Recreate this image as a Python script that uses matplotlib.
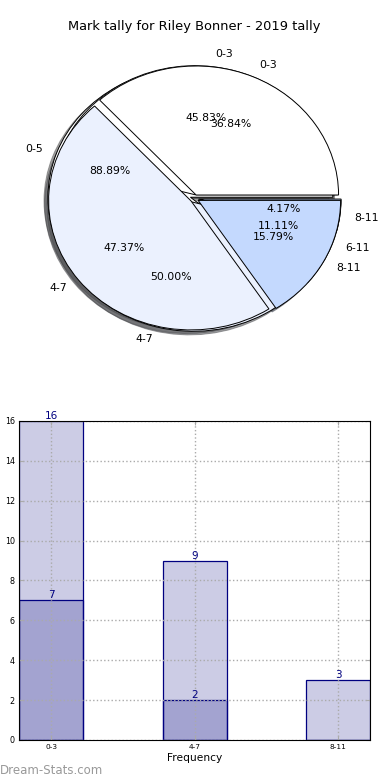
import matplotlib
matplotlib.use('Agg')
import matplotlib.pyplot as plt
import numpy as np

# pie data (three overlaid pies, last one drawn on top)
pie_labels_a = ['0-5', '6-11']
pie_values_a = [16, 2]
pie_labels_b = ['0-3', '4-7', '8-11']
pie_values_b = [11, 12, 1]
pie_labels_c = ['0-3', '4-7', '8-11']
pie_values_c = [7, 9, 3]
pie_colors = ['white', '#ebf1fe', '#c4d9fe']

# bar data
categories = ['0-3', '4-7', '8-11']
tally_all = [16, 9, 3]
tally_sub = [7, 2, 0]

fig = plt.figure(figsize=(3.9, 7.8), dpi=100)

# --- pies ---
ax1 = fig.add_axes([0.042, 0.5387, 0.913, 0.4135])
for labels, values in [(pie_labels_a, pie_values_a),
                       (pie_labels_b, pie_values_b),
                       (pie_labels_c, pie_values_c)]:
    wedges, texts, autotexts = ax1.pie(
        values, labels=labels, colors=pie_colors[:len(values)],
        explode=[0.03] * len(values), shadow=True, autopct='%1.2f%%',
        startangle=0, counterclock=True,
        wedgeprops={'edgecolor': 'black', 'linewidth': 0.7},
        textprops={'fontsize': 7.8})
ax1.set_aspect('auto')
ax1.set_xlim(-1.25, 1.25)
ax1.set_ylim(-1.25, 1.25)
ax1.set_title('Mark tally for Riley Bonner - 2019 tally', fontsize=9.4, pad=5)

# --- bars ---
ax2 = fig.add_axes([0.049, 0.0513, 0.9, 0.409])
x = np.arange(len(categories))
width = 0.446
face = (0, 0, 0.5, 0.2)
b1 = ax2.bar(x, tally_all, width, color=face, edgecolor='#000080', linewidth=0.9)
b2 = ax2.bar(x, tally_sub, width, color=face, edgecolor='#000080', linewidth=0.9)
for bars, vals in [(b1, tally_all), (b2, tally_sub)]:
    for rect, v in zip(bars, vals):
        if v == 0:
            continue
        ax2.text(rect.get_x() + rect.get_width() / 2, v, str(v),
                 ha='center', va='bottom', color='#000080', fontsize=7.5)

ax2.set_xlim(-width / 2, len(categories) - 1 + width / 2)
ax2.set_ylim(0, 16)
ax2.set_yticks(np.arange(0, 17, 2))
ax2.set_xticks(x)
ax2.set_xticklabels(categories)
ax2.tick_params(axis='y', labelsize=5.8)
ax2.tick_params(axis='x', labelsize=5.3)
ax2.tick_params(direction='in', top=True, right=True,
                color='#aaaaaa', length=3, pad=3)
ax2.grid(True, linestyle=':', color='#aaaaaa', linewidth=1)
ax2.set_xlabel('Frequency', fontsize=7.7, labelpad=2)
ax2.set_ylabel('Student Tally', fontsize=7.7)

fig.text(0.0, 0.004, 'Dream-Stats.com', fontsize=8.5, color='#999999',
         ha='left', va='bottom')

fig.savefig('out.png', dpi=100)
